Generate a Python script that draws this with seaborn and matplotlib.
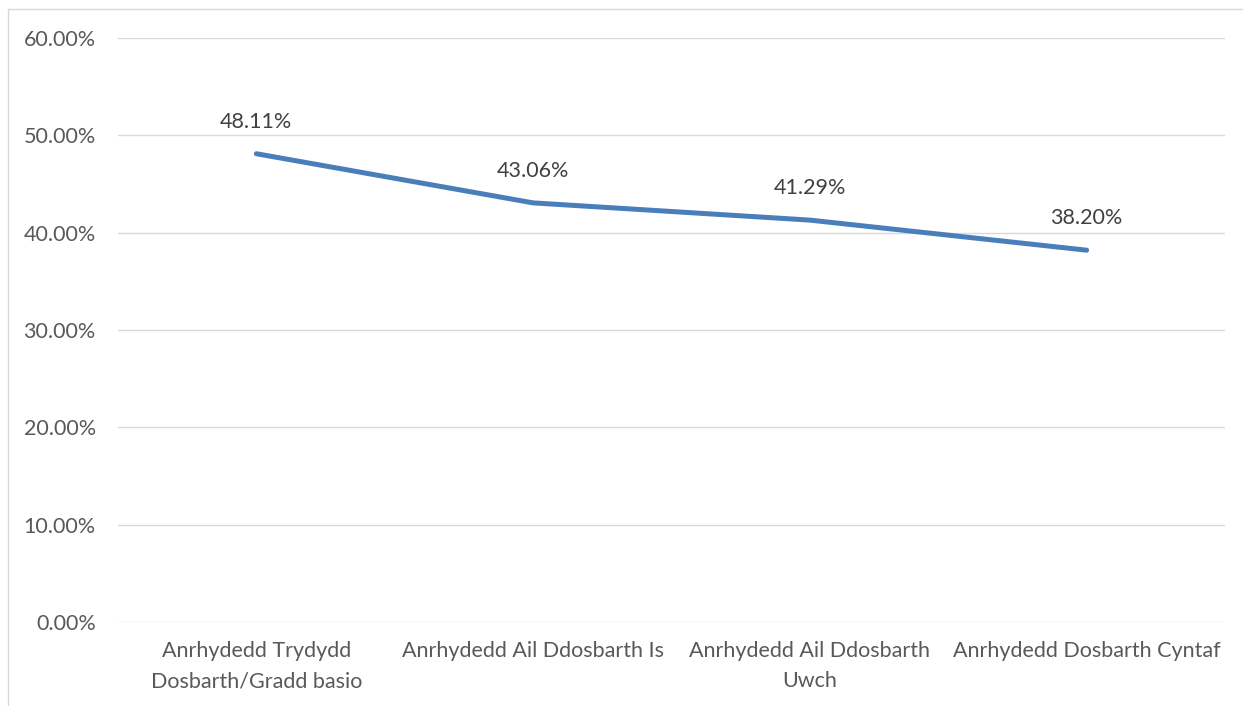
import pandas as pd
import matplotlib.pyplot as plt
import seaborn as sns
from matplotlib.lines import Line2D
from matplotlib.ticker import PercentFormatter

categories = [
    "Anrhydedd Trydydd\nDosbarth/Gradd basio",
    "Anrhydedd Ail Ddosbarth Is",
    "Anrhydedd Ail Ddosbarth\nUwch",
    "Anrhydedd Dosbarth Cyntaf",
]
values = [48.11, 43.06, 41.29, 38.20]
y_ticks = [0, 10, 20, 30, 40, 50, 60]

df = pd.DataFrame({"Dosbarth": categories, "Canran": values})

sns.set_style("white")
plt.rcParams['font.family'] = ['Lato', 'DejaVu Sans']

fig = plt.figure(figsize=(12.43, 7.06), dpi=100)
ax = fig.add_axes([118 / 1243, 1 - 622 / 706, (1225 - 118) / 1243, (622 - 38) / 706])

sns.lineplot(data=df, x="Dosbarth", y="Canran", ax=ax, color="#4a7ebb",
             linewidth=3.6, sort=False)

for i, v in enumerate(values):
    ax.annotate(f"{v:.2f}%", (i, v), xytext=(0, 23), textcoords="offset points",
                ha="center", va="center", fontsize=15.5, color="#404040")

ax.set_xlim(-0.5, 3.5)
ax.set_ylim(0, 60)
ax.set_yticks(y_ticks)
ax.yaxis.set_major_formatter(PercentFormatter(decimals=2))
ax.grid(axis="y", color="#d9d9d9", linewidth=1)
ax.set_axisbelow(True)
for s in ax.spines.values():
    s.set_visible(False)
ax.tick_params(axis="both", length=0, labelsize=15.5, colors="#595959")
ax.tick_params(axis="y", pad=16)
ax.tick_params(axis="x", pad=14)
for lbl in ax.get_xticklabels():
    lbl.set_linespacing(1.6)
ax.set_xlabel("")
ax.set_ylabel("")

# chart frame
fig.add_artist(Line2D([8 / 1243, 8 / 1243], [0, 1 - 9 / 706], transform=fig.transFigure,
                      color="#d9d9d9", linewidth=1))
fig.add_artist(Line2D([8 / 1243, 1], [1 - 9 / 706, 1 - 9 / 706], transform=fig.transFigure,
                      color="#d9d9d9", linewidth=1))

plt.savefig("out.png", dpi=100)
